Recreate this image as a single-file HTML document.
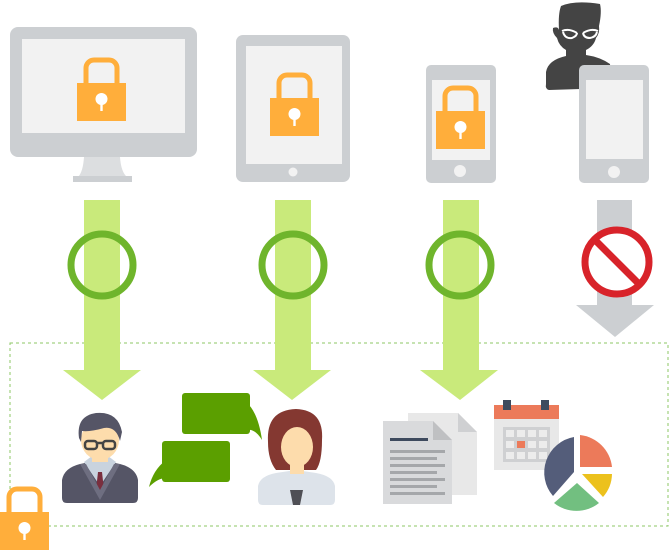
<!DOCTYPE html>
<html><head><meta charset="utf-8"><style>html,body{margin:0;padding:0;background:#fff}svg{display:block}</style></head>
<body>
<svg width="672" height="550" viewBox="0 0 672 550" xmlns="http://www.w3.org/2000/svg">
<defs>
<g id="lock">
<path d="M9 26 V10 a8 8 0 0 1 8 -8 h15 a8 8 0 0 1 8 8 V26" fill="none" stroke="#ffae3b" stroke-width="5"/>
<rect x="0" y="25" width="49" height="38" fill="#ffae3b"/>
<circle cx="24.5" cy="41" r="6" fill="#fff"/>
<rect x="23.3" y="43" width="2.4" height="10" fill="#fff"/>
</g>
</defs>
<!-- monitor -->
<rect x="10" y="27" width="187" height="130" rx="8" fill="#cccfd2"/>
<rect x="22" y="39" width="163" height="94" fill="#f2f2f2"/>
<path d="M84 157 H120 Q121 172 127 177 H78 Q83 172 84 157Z" fill="#dcdee0"/>
<rect x="73" y="176" width="59" height="6" fill="#cccfd2"/>
<use href="#lock" x="77" y="58"/>
<!-- tablet -->
<rect x="236" y="35" width="114" height="147" rx="7" fill="#cccfd2"/>
<rect x="246" y="46" width="96" height="118" fill="#f2f2f2"/>
<circle cx="293" cy="172" r="4.5" fill="#f2f2f2"/>
<use href="#lock" x="270" y="73"/>
<!-- phone 1 -->
<rect x="426" y="65" width="70" height="118" rx="5" fill="#cccfd2"/>
<rect x="432" y="80" width="58" height="80" fill="#f2f2f2"/>
<circle cx="460" cy="171" r="6" fill="#f2f2f2"/>
<use href="#lock" x="436" y="86"/>
<!-- attacker -->
<path d="M561 6 Q575 0 600 4 Q602 12 599 26 Q600 33 596 38 Q594 46 586 50 L586 55 Q600 57 610 64 L612 88 L549 90 Q545 89 546 84 L546 72 Q548 60 566 56 L566 50 Q559 46 557 38 Q552 33 553 28 Q558 26 559 30 Q558 14 561 6Z" fill="#444"/>
<path d="M562 31 Q569 28 577 33 M583 33 Q591 28 598 31" stroke="#fff" stroke-width="2" fill="none"/>
<path d="M563 32 Q565 39 572 38 Q577 36 577 33 M583 33 Q584 38 590 38 Q596 37 597 32" stroke="#fff" stroke-width="2" fill="none"/>
<!-- phone 2 -->
<rect x="579" y="65" width="70" height="118" rx="5" fill="#cccfd2"/>
<rect x="586" y="80" width="57" height="79" fill="#f2f2f2"/>
<circle cx="614" cy="172" r="6" fill="#f2f2f2"/>
<!-- dashed box -->
<rect x="10" y="343" width="658" height="183" fill="none" stroke="#8cc765" stroke-width="1" stroke-dasharray="3,3"/>
<!-- arrows -->
<g fill="#c9ea7b">
<rect x="84" y="200" width="36" height="171"/><path d="M63 370 H141 L102 400Z"/>
<rect x="275" y="200" width="36" height="171"/><path d="M253 370 H331 L292 400Z"/>
<rect x="443" y="200" width="36" height="171"/><path d="M420 370 H498 L460 400Z"/>
</g>
<g fill="#cccfd2"><rect x="597" y="200" width="35" height="106"/><path d="M576 305 H654 L615 337Z"/></g>
<g fill="none" stroke="#6fb52c" stroke-width="7">
<circle cx="102" cy="265" r="31"/><circle cx="293" cy="265" r="31"/><circle cx="460" cy="265" r="31"/>
</g>
<circle cx="617" cy="262" r="32" fill="#fff" stroke="#d8232a" stroke-width="7"/>
<line x1="596" y1="241" x2="638" y2="283" stroke="#d8232a" stroke-width="7"/>
<!-- man -->
<path d="M62 498 V480 Q64 468 80 464 L100 460 L120 464 Q136 468 138 480 V498 Q138 503 133 503 H67 Q62 503 62 498Z" fill="#555566"/>
<path d="M84 462 L100 486 L116 462 L108 456 H92Z" fill="#c9d3de"/>
<path d="M98 472 L102 472 L104 490 L100 498 L96 490Z" fill="#7a2f3e"/>
<path d="M80 464 L100 500 L120 464 L114 464 L100 490 L86 464Z" fill="#6e6e80"/>
<rect x="92" y="446" width="16" height="16" fill="#fddcac"/>
<ellipse cx="100" cy="440" rx="19" ry="20" fill="#fddcac"/>
<path d="M79 438 Q76 416 96 413 Q118 411 122 432 L120 441 Q116 426 104 428 Q90 432 82 431 L81 442Z" fill="#555566"/>
<g stroke="#444" stroke-width="2.5" fill="none"><rect x="85" y="441" width="12" height="8" rx="3"/><rect x="103" y="441" width="12" height="8" rx="3"/><line x1="97" y1="443" x2="103" y2="443"/></g>
<!-- bubbles -->
<rect x="182" y="393" width="68" height="41" rx="3" fill="#5b9f00"/>
<path d="M246 402 Q258 412 262 440 Q255 428 246 430Z" fill="#5b9f00"/>
<rect x="162" y="441" width="68" height="41" rx="3" fill="#5b9f00"/>
<path d="M166 460 Q153 470 149 487 Q158 478 166 478Z" fill="#5b9f00"/>
<!-- woman -->
<path d="M258 500 V486 Q260 476 276 473 L296 470 L316 473 Q333 476 335 486 V500 Q335 505 330 505 H263 Q258 505 258 500Z" fill="#dde3ea"/>
<path d="M290 490 H303 L300 505 H293Z" fill="#4f4f55"/>
<path d="M268 442 Q266 410 296 409 Q324 410 322 440 Q322 462 316 470 L276 470 Q268 460 268 442Z" fill="#843831"/>
<rect x="290" y="460" width="14" height="14" fill="#fddcac"/>
<ellipse cx="297" cy="447" rx="16" ry="20" fill="#fddcac"/>
<path d="M280 440 Q288 424 306 426 Q312 432 318 444 L318 426 Q305 415 284 422Z" fill="#843831"/>
<!-- docs -->
<path d="M408 413 H458 L477 432 V495 H408Z" fill="#e8e8e8"/>
<path d="M458 413 L477 432 H458Z" fill="#cfd0d2"/>
<path d="M383 421 H433 L452 440 V504 H383Z" fill="#d9dadc"/>
<path d="M433 421 L452 440 H433Z" fill="#bfc0c2"/>
<rect x="390" y="438" width="38" height="3" fill="#3e4a5e"/>
<g fill="#a5a7aa"><rect x="390" y="450" width="55" height="3"/><rect x="390" y="457" width="47" height="3"/><rect x="390" y="464" width="55" height="3"/><rect x="390" y="471" width="47" height="3"/><rect x="390" y="478" width="55" height="3"/><rect x="390" y="485" width="47" height="3"/><rect x="390" y="492" width="55" height="3"/></g>
<!-- calendar -->
<rect x="494" y="405" width="65" height="65" fill="#e8e8e8"/>
<rect x="494" y="405" width="65" height="14" fill="#ec7a5a"/>
<rect x="503" y="400" width="8" height="10" fill="#3e4a5e"/><rect x="541" y="400" width="8" height="10" fill="#3e4a5e"/>
<rect x="503" y="427" width="47" height="35" fill="#cfd0d2"/>
<g fill="#ececec">
<rect x="506" y="430" width="8" height="7"/><rect x="517" y="430" width="8" height="7"/><rect x="528" y="430" width="8" height="7"/><rect x="539" y="430" width="8" height="7"/>
<rect x="506" y="441" width="8" height="7"/><rect x="528" y="441" width="8" height="7"/><rect x="539" y="441" width="8" height="7"/>
<rect x="506" y="452" width="8" height="7"/><rect x="517" y="452" width="8" height="7"/><rect x="528" y="452" width="8" height="7"/><rect x="539" y="452" width="8" height="7"/>
</g>
<rect x="517" y="441" width="8" height="7" fill="#ec7a5a"/>
<!-- pie -->
<path d="M576 437 A36 36 0 0 0 555 496 L576 472Z" fill="#545d7a" transform="translate(-2,0)"/>
<path d="M578 437 A36 36 0 0 1 610 469 L578 469Z" fill="#ec7a5a" transform="translate(2,-2)"/>
<path d="M610 474 A36 36 0 0 1 601 497 L580 474Z" fill="#ecc11d" transform="translate(2,0)"/>
<path d="M598 500 A36 36 0 0 1 553 500 L576 480Z" fill="#72bf80" transform="translate(1,3)"/>
<!-- bottom-left lock -->
<use href="#lock" x="0" y="487"/>
</svg>
</body></html>
